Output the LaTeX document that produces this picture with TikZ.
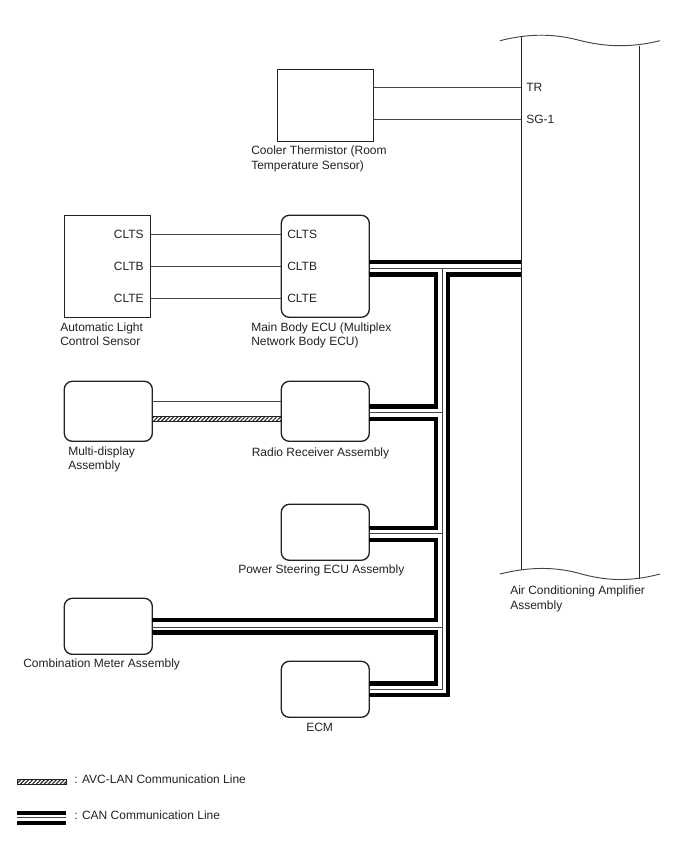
\documentclass[tikz,border=0pt]{standalone}
\usepackage{fontspec}
\setmainfont{Liberation Sans}
\usetikzlibrary{patterns.meta}
\definecolor{ink}{HTML}{222222}
\definecolor{wirec}{HTML}{444444}
\tikzset{
  x=0.75pt,y=-0.75pt,
  sharpbox/.style={draw=ink,line width=1pt,fill=white,inner sep=0pt,outer sep=0pt,anchor=north west},
  roundbox/.style={sharpbox,rounded corners=6pt},
  lbl/.style={font=\fontsize{9pt}{10.6pt}\selectfont,text=ink,inner sep=0pt,align=left,anchor=north west},
  pin/.style={font=\fontsize{9pt}{10pt}\selectfont,text=ink,inner sep=0pt},
  wire/.style={draw=wirec,line width=0.65pt},
  thick bar/.style={draw=black,line width=3.1pt},
  thin bar/.style={draw=wirec,line width=0.65pt},
  hatchband/.style={draw=ink,line width=0.5pt,pattern={Lines[angle=45,distance=2.1pt,line width=0.85pt]},pattern color=ink},
  amp/.style={draw=ink,line width=1pt},
  wave/.style={draw=wirec,line width=0.7pt}
}
\newcommand{\boxnode}[6]{\node[#1,minimum width=#4*0.75pt,minimum height=#5*0.75pt] (#6) at (#2,#3) {};}
\begin{document}
\begin{tikzpicture}
\useasboundingbox (0,0) rectangle (688,852);
% amplifier
\coordinate (ampTL) at (521.3,37);
\coordinate (ampTR) at (639.3,45.6);
\coordinate (ampBL) at (521.3,569.7);
\coordinate (ampBR) at (639.3,579);
\draw[amp] (ampTL) -- (ampBL);
\draw[amp] (ampTR) -- (ampBR);
\draw[wave] (500,40.7) .. controls (530,33) and (555,34) .. (578,40) .. controls (605,47) and (630,48) .. (660,40.7);
\draw[wave] (500,574) .. controls (530,566.5) and (555,567) .. (578,573) .. controls (605,581) and (630,582) .. (660,574);
% boxes
\boxnode{sharpbox}{277.3}{69.3}{96}{72}{therm}
\boxnode{sharpbox}{64.3}{215.3}{86}{102}{als}
\boxnode{roundbox}{281.3}{215.3}{88}{102}{body}
\boxnode{roundbox}{64.3}{381.3}{88}{60}{disp}
\boxnode{roundbox}{281.3}{381.3}{88}{60}{radio}
\boxnode{roundbox}{281.3}{504.3}{88}{56}{steer}
\boxnode{roundbox}{64.3}{598.3}{88}{56}{meter}
\boxnode{roundbox}{281.3}{661.3}{88}{56}{ecm}
% signal wires
\coordinate (tr) at (521.3,87.5);
\coordinate (sg) at (521.3,119.5);
\draw[wire] (therm.east |- tr) -- (tr);
\draw[wire] (therm.east |- sg) -- (sg);
\foreach \yy in {234.5,266.5,298.5}{
  \coordinate (w) at (0,\yy);
  \draw[wire] (als.east |- w) -- (body.west |- w);
}
% AVC
\coordinate (avcA) at (0,401);
\draw[wire] (disp.east |- avcA) -- (radio.west |- avcA);
\coordinate (avcB) at (0,416.8);
\coordinate (avcC) at (0,421.8);
\path[hatchband] (disp.east |- avcB) rectangle (radio.west |- avcC);
% CAN bus: thin middle
\coordinate (trunkTop) at (442.3,268);
\coordinate (trunkEnd) at (442.3,689);
\draw[thin bar] (body.east |- trunkTop) -- (ampTL |- trunkTop);
\draw[thin bar] (trunkTop) -- (trunkEnd) -- (ecm.east |- trunkEnd);
\draw[thin bar] (radio.east |- 0,412.5) -- (442.3,412.5);
\draw[thin bar] (steer.east |- 0,533) -- (442.3,533);
\draw[thin bar] (meter.east |- 0,627) -- (442.3,627);
% CAN bus: thick bars
\begin{scope}[thick bar,line cap=butt,line join=miter]
\draw (body.east |- 0,262) -- (ampTL |- 0,262);
\draw (body.east |- 0,274.5) -- (436.3,274.5) -- (436.3,406.5) -- (radio.east |- 0,406.5);
\draw (radio.east |- 0,419) -- (436.3,419) -- (436.3,528) -- (steer.east |- 0,528);
\draw (steer.east |- 0,540) -- (436.3,540) -- (436.3,620) -- (meter.east |- 0,620);
\draw (meter.east |- 0,632.5) -- (436.3,632.5) -- (436.3,683.5) -- (ecm.east |- 0,683.5);
\draw (ampTL |- 0,274.5) -- (448.2,274.5) -- (448.2,695) -- (ecm.east |- 0,695);
\end{scope}
% pins
\node[pin,anchor=west] (pTR) at (526,87.5) {TR};
\node[pin,anchor=west] (pSG) at (526,119.5) {SG-1};
\node[pin,anchor=east] (p1) at (144,234.5) {CLTS};
\node[pin,anchor=east] (p2) at (144,266.5) {CLTB};
\node[pin,anchor=east] (p3) at (144,298.5) {CLTE};
\node[pin,anchor=west] (p4) at (287,234.5) {CLTS};
\node[pin,anchor=west] (p5) at (287,266.5) {CLTB};
\node[pin,anchor=west] (p6) at (287,298.5) {CLTE};
% labels
\node[lbl] (l1) at (251,146) {Cooler Thermistor (Room\\Temperature Sensor)};
\node[lbl] (l2) at (60,322.5) {Automatic Light\\Control Sensor};
\node[lbl] (l3) at (251,322.5) {Main Body ECU (Multiplex\\Network Body ECU)};
\node[lbl] (l4) at (68,446.5) {Multi-display\\Assembly};
\node[lbl] (l5) at (251.5,447.5) {Radio Receiver Assembly};
\node[lbl] (l6) at (238,564.5) {Power Steering ECU Assembly};
\node[lbl] (l7) at (23,658.5) {Combination Meter Assembly};
\node[lbl] (l8) at (306,722.5) {ECM};
\node[lbl] (l9) at (510,586) {Air Conditioning Amplifier\\Assembly};
% legend
\coordinate (la) at (17,779);
\coordinate (lb) at (66,784);
\path[hatchband] (la) rectangle (lb);
\node[lbl,anchor=west] (t1) at (74,779) {: AVC-LAN Communication Line};
\draw[thick bar] (17,813) -- (66,813);
\draw[thin bar] (17,817.7) -- (66,817.7);
\draw[thick bar] (17,823.2) -- (66,823.2);
\node[lbl,anchor=west] (t2) at (74,815) {: CAN Communication Line};
\end{tikzpicture}
\end{document}
